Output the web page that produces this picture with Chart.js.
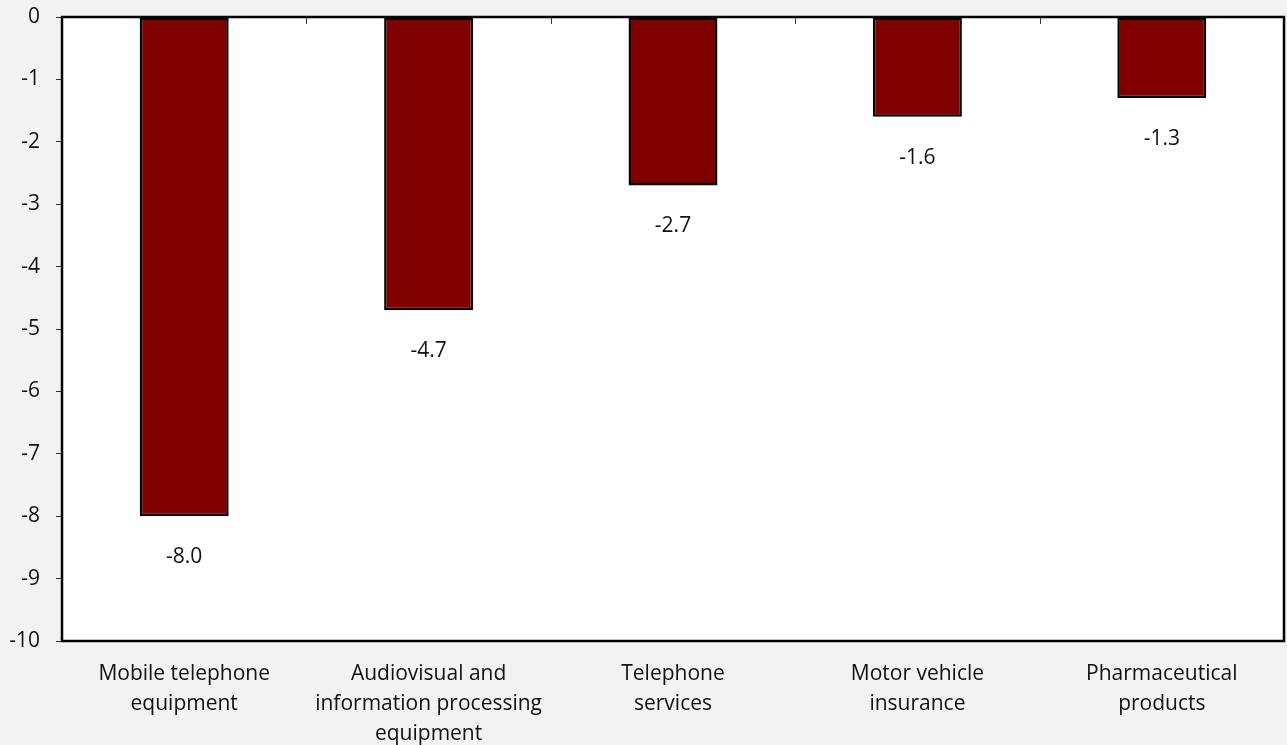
<!DOCTYPE html>
<html>
<head>
<meta charset="utf-8">
<script src="https://cdn.jsdelivr.net/npm/chart.js@4/dist/chart.umd.min.js"></script>
<style>
  html, body { margin: 0; padding: 0; background: #f2f2f2; }
  #wrap { width: 1287px; height: 745px; position: relative; }
</style>
</head>
<body>
<div id="wrap"><canvas id="c"></canvas></div>
<script>
// Contribution by product (percentage points)
const categories = [
  ['Mobile telephone', 'equipment'],
  ['Audiovisual and', 'information processing', 'equipment'],
  ['Telephone', 'services'],
  ['Motor vehicle', 'insurance'],
  ['Pharmaceutical', 'products']
];
const values = [-8.0, -4.7, -2.7, -1.6, -1.3];
const yTicks = [0, -1, -2, -3, -4, -5, -6, -7, -8, -9, -10];

const FONT = '"Open Sans", "Noto Sans", sans-serif';
const TEXT = '#111111';
const FONT_SIZE = 21;

// White plot area with a black frame and category ticks along the zero line
const plotFrame = {
  id: 'plotFrame',
  beforeDraw(chart) {
    const { ctx, chartArea: a } = chart;
    ctx.save();
    ctx.fillStyle = '#ffffff';
    ctx.fillRect(a.left, a.top, a.right - a.left, a.bottom - a.top);
    ctx.restore();
  },
  afterDatasetsDraw(chart) {
    const { ctx, chartArea: a } = chart;
    const x = chart.scales.x;
    ctx.save();
    ctx.strokeStyle = '#000000';
    ctx.lineWidth = 2.5;
    ctx.strokeRect(a.left, a.top, a.right - a.left, a.bottom - a.top);
    ctx.lineWidth = 1;
    ctx.strokeStyle = '#333333';
    for (let i = 1; i < categories.length; i++) {
      const px = Math.round((x.getPixelForValue(i - 1) + x.getPixelForValue(i)) / 2) + 0.5;
      ctx.beginPath();
      ctx.moveTo(px, a.top);
      ctx.lineTo(px, a.top + 7);
      ctx.stroke();
    }
    ctx.restore();
  }
};

// Value labels placed under each bar's end
const valueLabels = {
  id: 'valueLabels',
  afterDatasetsDraw(chart) {
    const { ctx } = chart;
    const meta = chart.getDatasetMeta(0);
    ctx.save();
    ctx.font = FONT_SIZE + 'px ' + FONT;
    ctx.fillStyle = TEXT;
    ctx.textAlign = 'center';
    ctx.textBaseline = 'middle';
    meta.data.forEach((bar, i) => {
      ctx.fillText(values[i].toFixed(1), bar.x, bar.y + 41);
    });
    ctx.restore();
  }
};

new Chart(document.getElementById('c'), {
  type: 'bar',
  data: {
    labels: categories,
    datasets: [{
      data: values,
      backgroundColor: '#800000',
      borderColor: '#000000',
      borderWidth: 2.5,
      borderSkipped: false,
      barPercentage: 0.364,
      categoryPercentage: 1.0
    }]
  },
  options: {
    responsive: true,
    maintainAspectRatio: false,
    animation: false,
    layout: { padding: { top: 17, right: 3, left: 0, bottom: 0 } },
    plugins: {
      legend: { display: false },
      tooltip: { enabled: false }
    },
    scales: {
      x: {
        position: 'bottom',
        grid: { display: false, drawTicks: false },
        border: { display: false },
        ticks: {
          color: TEXT,
          font: { family: FONT, size: FONT_SIZE, lineHeight: 1.43 },
          padding: 18,
          maxRotation: 0,
          autoSkip: false
        },
        afterFit(scale) {
          scale.height = 104;
          scale.paddingLeft = 0;
          scale.paddingRight = 0;
        }
      },
      y: {
        min: -10,
        max: 0,
        afterBuildTicks(scale) {
          scale.ticks = yTicks.map(v => ({ value: v }));
        },
        grid: {
          drawOnChartArea: false,
          drawTicks: true,
          tickLength: 6,
          color: '#333333'
        },
        border: { display: false },
        ticks: {
          color: TEXT,
          font: { family: FONT, size: FONT_SIZE },
          padding: 16,
          callback: v => String(v)
        },
        afterFit(scale) {
          scale.width = 62;
          scale.paddingTop = 0;
          scale.paddingBottom = 0;
        }
      }
    }
  },
  plugins: [plotFrame, valueLabels]
});
</script>
</body>
</html>
